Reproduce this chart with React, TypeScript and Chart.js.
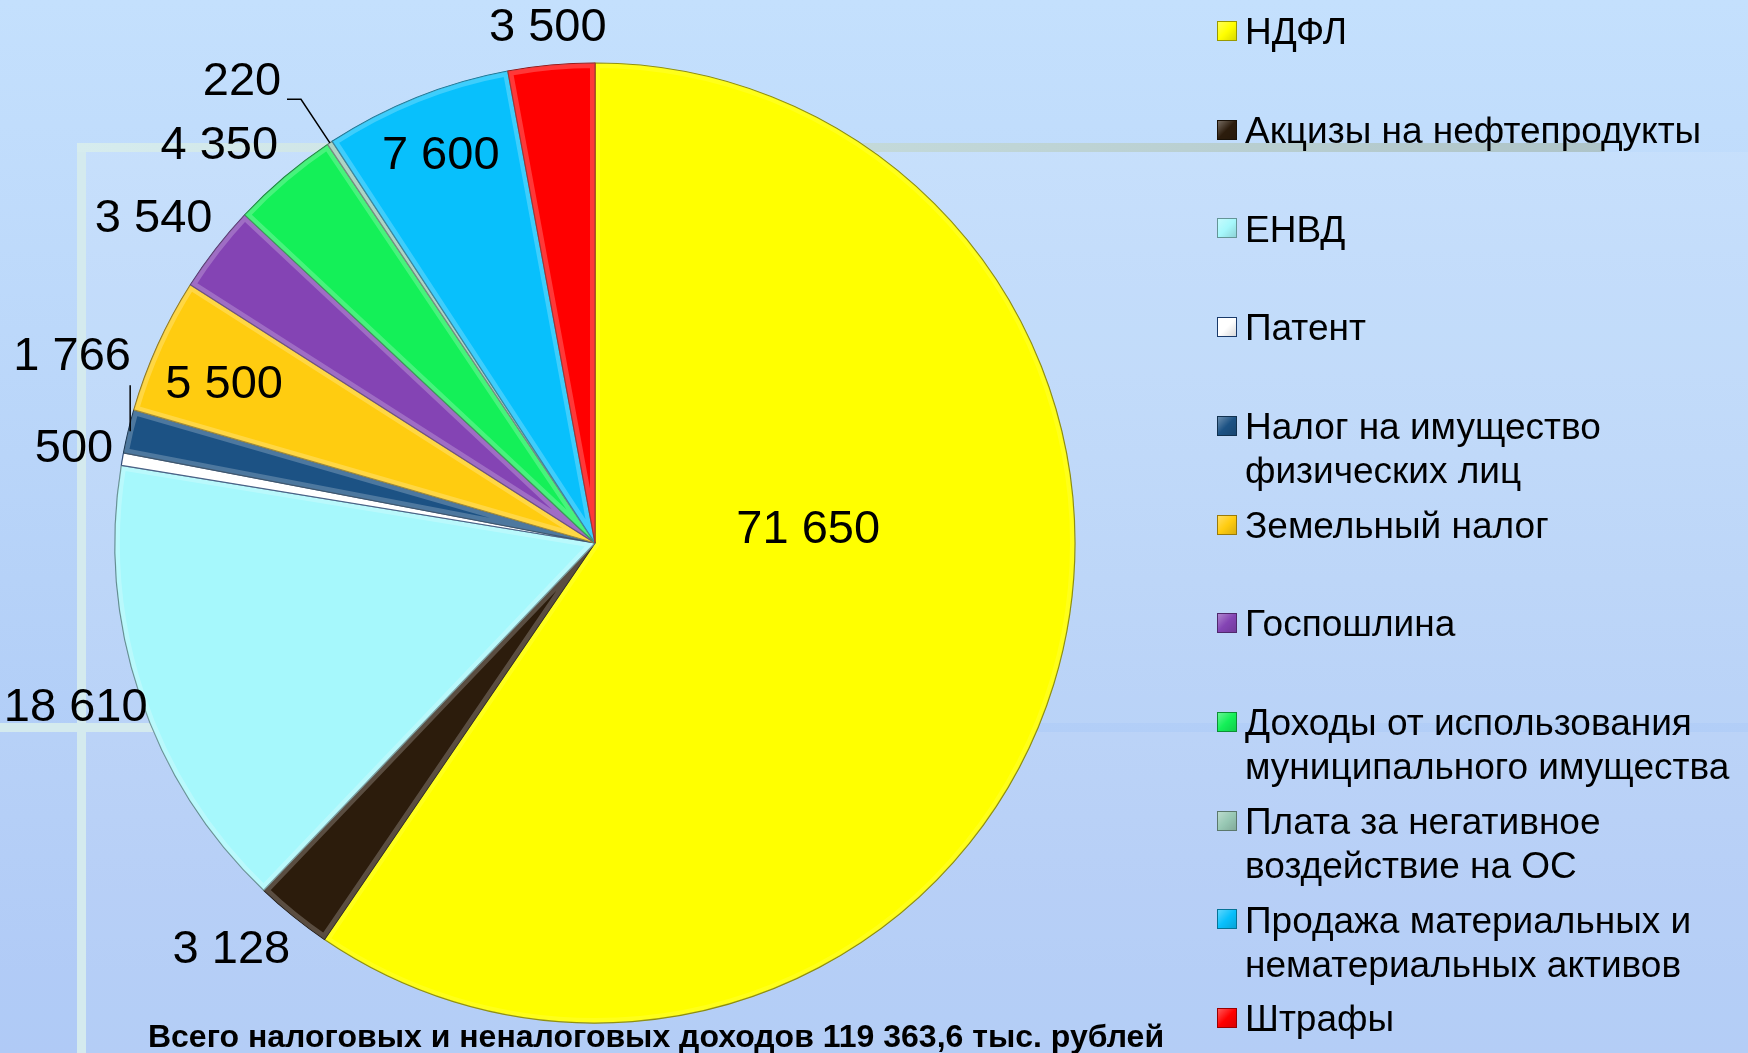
import React, { useEffect, useRef } from "react";
import { Chart, registerables } from "chart.js";

Chart.register(...registerables);

const categories: string[] = [
  "НДФЛ",
  "Акцизы на нефтепродукты",
  "ЕНВД",
  "Патент",
  "Налог на имущество\nфизических лиц",
  "Земельный налог",
  "Госпошлина",
  "Доходы от использования\nмуниципального имущества",
  "Плата за негативное\nвоздействие на ОС",
  "Продажа материальных и\nнематериальных активов",
  "Штрафы",
];

const values: number[] = [71650, 3128, 18610, 500, 1766, 5500, 3540, 4350, 220, 7600, 3500];

const sliceColors: string[] = [
  "#ffff00",
  "#2c1c0c",
  "#a6f8fc",
  "#ffffff",
  "#1c5284",
  "#ffcc10",
  "#8444b4",
  "#14f058",
  "#98c8b4",
  "#08c0fc",
  "#ff0000",
];

const totalTitle = "Всего налоговых и неналоговых доходов 119 363,6 тыс. рублей";

// label placement (radius factor, angular shift in degrees, leader type)
const labelPlacement: [number, number, string][] = [
  [0.445, -20.6, ""],
  [1.137, 2.8, ""],
  [1.135, 0.9, ""],
  [1.103, 0.2, ""],
  [1.156, 6.1, "up"],
  [0.84, -1.2, ""],
  [1.14, -1.6, ""],
  [1.138, -3.1, ""],
  [1.21, -3.9, "elbow"],
  [0.868, 0.1, ""],
  [1.077, 0, ""],
];

const fmt = (v: number) => String(v).replace(/\B(?=(\d{3})+(?!\d))/g, " ");

const shade = (hex: string, f: number) => {
  const n = parseInt(hex.slice(1), 16);
  const r = Math.round(((n >> 16) & 255) * f);
  const g = Math.round(((n >> 8) & 255) * f);
  const b = Math.round((n & 255) * f);
  return `rgb(${r},${g},${b})`;
};

const labelPlugin = {
  id: "sliceLabels",
  afterDatasetsDraw(chart: any) {
    const ctx = chart.ctx;
    const meta = chart.getDatasetMeta(0);
    ctx.save();
    // soft bevel highlight on each slice
    meta.data.forEach((arc: any, i: number) => {
      const { x, y, startAngle, endAngle, outerRadius } = arc.getProps(
        ["x", "y", "startAngle", "endAngle", "outerRadius"],
        true
      );
      ctx.save();
      ctx.beginPath();
      ctx.moveTo(x, y);
      ctx.arc(x, y, outerRadius, startAngle, endAngle);
      ctx.closePath();
      ctx.clip();
      ctx.lineJoin = "round";
      ctx.strokeStyle = i === 0 ? "rgba(255,255,255,0.10)" : "rgba(255,255,255,0.22)";
      ctx.lineWidth = 10;
      ctx.stroke();
      ctx.restore();
    });
    ctx.font = '47px "Liberation Sans", Arial, sans-serif';
    ctx.fillStyle = "#000";
    ctx.textAlign = "center";
    ctx.textBaseline = "middle";
    ctx.strokeStyle = "#000";
    ctx.lineWidth = 1.5;
    meta.data.forEach((arc: any, i: number) => {
      const { x, y, startAngle, endAngle, outerRadius } = arc.getProps(
        ["x", "y", "startAngle", "endAngle", "outerRadius"],
        true
      );
      const mid = (startAngle + endAngle) / 2;
      const [k, d, leader] = labelPlacement[i];
      const a = mid + (d * Math.PI) / 180;
      const lx = x + Math.cos(a) * k * outerRadius;
      const ly = y + Math.sin(a) * k * outerRadius;
      if (leader === "up") {
        const sx = x + Math.cos(mid) * outerRadius;
        const sy = y + Math.sin(mid) * outerRadius;
        ctx.beginPath();
        ctx.moveTo(sx + 2, sy);
        ctx.lineTo(sx + 2, ly + 28);
        ctx.stroke();
      } else if (leader === "elbow") {
        const sx = x + Math.cos(mid) * outerRadius;
        const sy = y + Math.sin(mid) * outerRadius;
        const ex = x + Math.cos(mid) * outerRadius * 1.109;
        const ey = y + Math.sin(mid) * outerRadius * 1.109;
        ctx.beginPath();
        ctx.moveTo(sx, sy);
        ctx.lineTo(ex, ey);
        ctx.lineTo(ex - 14, ey);
        ctx.stroke();
      }
      ctx.fillText(fmt(values[i]), lx, ly);
    });
    ctx.restore();
  },
};

export default function App() {
  const ref = useRef<HTMLCanvasElement | null>(null);

  useEffect(() => {
    if (!ref.current) return;
    const chart = new Chart(ref.current, {
      type: "pie",
      data: {
        labels: categories,
        datasets: [
          {
            data: values,
            backgroundColor: sliceColors,
            borderColor: sliceColors.map((c, i) => (i === 3 ? "#1a3a6a" : shade(c, 0.55))),
            borderWidth: 1.2,
          },
        ],
      },
      options: {
        responsive: false,
        animation: false,
        radius: 480,
        layout: { padding: { left: 115, top: 63, right: 673, bottom: 30 } },
        plugins: {
          legend: { display: false },
          tooltip: { enabled: false },
        },
      },
      plugins: [labelPlugin],
    });
    return () => chart.destroy();
  }, []);

  const rowStep = 98.7;

  return (
    <div
      style={{
        position: "fixed",
        left: 0,
        top: 0,
        width: 1748,
        height: 1053,
        overflow: "hidden",
        background: "linear-gradient(180deg, #c4e0fd 0%, #b6d2f8 55%, #aac6f6 100%)",
        fontFamily: '"Liberation Sans", Arial, sans-serif',
      }}
    >
      {/* decorative frame */}
      <div style={{ position: "absolute", left: 86, top: 152, width: 1662, height: 571, background: "rgba(255,255,255,0.10)" }} />
      <div style={{ position: "absolute", left: 0, top: 732, width: 1748, height: 321, background: "rgba(255,255,255,0.07)" }} />
      <div style={{ position: "absolute", left: 86, top: 732, width: 1662, height: 321, background: "rgba(255,255,255,0.06)" }} />
      <div style={{ position: "absolute", left: 77, top: 143, width: 9, height: 910, background: "#d4eaee" }} />
      <div
        style={{
          position: "absolute",
          left: 77,
          top: 143,
          width: 1528,
          height: 9,
          background: "linear-gradient(90deg, #d6ecee 0%, #c4dada 50%, #aec4c8 100%)",
        }}
      />
      <div style={{ position: "absolute", left: 0, top: 723, width: 600, height: 9, background: "#d4eaee" }} />

      <canvas
        ref={ref}
        width={1748}
        height={1053}
        style={{ position: "absolute", left: 0, top: 0, width: 1748, height: 1053 }}
      />

      {/* legend */}
      {categories.map((c, i) => (
        <React.Fragment key={i}>
          <div
            style={{
              position: "absolute",
              left: 1217,
              top: 21 + i * rowStep,
              width: 20,
              height: 20,
              boxSizing: "border-box",
              background: `linear-gradient(135deg, rgba(255,255,255,0.35), rgba(255,255,255,0) 50%, rgba(0,0,0,0.15)), ${sliceColors[i]}`,
              border: `1px solid ${i === 3 ? "#1a3a6a" : shade(sliceColors[i], 0.6)}`,
            }}
          />
          <div
            style={{
              position: "absolute",
              left: 1245,
              top: 10.2 + i * rowStep,
              fontSize: 37,
              lineHeight: "44px",
              whiteSpace: "pre",
              color: "#000",
            }}
          >
            {c}
          </div>
        </React.Fragment>
      ))}

      {/* total */}
      <div
        style={{
          position: "absolute",
          left: 0,
          top: 1019,
          width: 1312,
          textAlign: "center",
          fontSize: 32,
          fontWeight: "bold",
          lineHeight: "34px",
          color: "#000",
          whiteSpace: "nowrap",
        }}
      >
        {totalTitle}
      </div>
    </div>
  );
}
